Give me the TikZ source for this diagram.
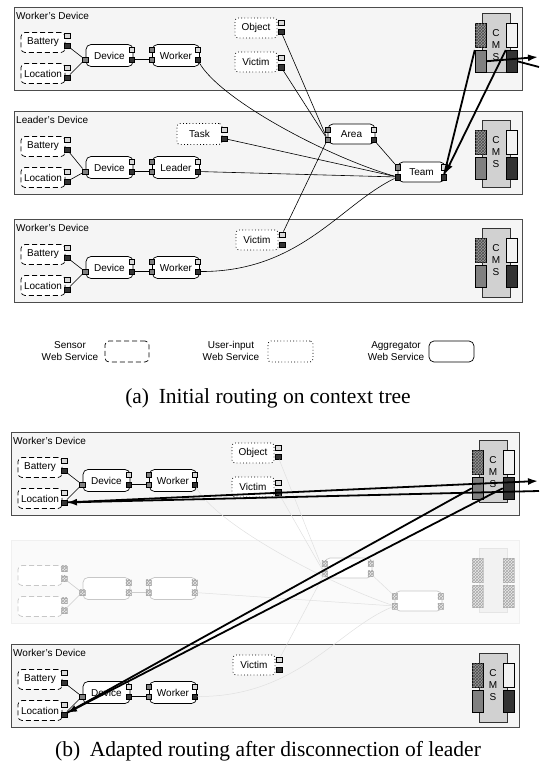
\documentclass[tikz,border=0pt]{standalone}
\usepackage{fontspec}
\setmainfont{Liberation Serif}
\setsansfont{Liberation Sans}
\usetikzlibrary{arrows.meta,patterns}

\tikzset{
  lbl/.style={font=\sffamily\fontsize{10}{12}\selectfont, inner sep=0pt},
  panel/.style={draw=black!70, fill=black!4, line width=0.6pt, minimum width=508pt, minimum height=83pt, inner sep=0pt},
  sensor/.style={lbl, draw, dash pattern=on 5pt off 3pt, rounded corners=4pt, fill=white, minimum width=44pt, minimum height=20pt, line width=0.7pt},
  userin/.style={lbl, draw, dash pattern=on 0.8pt off 2.4pt, rounded corners=3pt, fill=white, minimum width=42pt, minimum height=20pt, line width=0.8pt},
  aggr/.style={lbl, draw, rounded corners=5pt, fill=white, minimum width=47pt, minimum height=22pt, line width=0.7pt},
  port/.style={draw, line width=0.4pt, minimum size=5.5pt, inner sep=0pt},
  clt/.style={fill=black!15},
  cwt/.style={fill=black!5},
  cmd/.style={fill=black!50},
  cdk/.style={fill=black!80},
  chx/.style={fill=black!40, postaction={pattern=crosshatch, pattern color=black!70}},
  cms/.style={draw=black!80, fill=black!18, line width=0.6pt, minimum width=28pt, inner sep=0pt, anchor=north},
  cmsbar/.style={draw, line width=0.5pt, minimum width=11pt, inner sep=0pt, anchor=north},
  wire/.style={line width=0.6pt},
  ctx/.style={line width=0.6pt},
  route/.style={line width=1.8pt},
  tip/.style={-{Latex[length=10pt,width=7pt]}},
  fadepanel/.style={},
  caption/.style={font=\fontsize{21.5}{24}\selectfont}
}

\newcommand{\txt}[1]{#1}

% one device: panel, sensors, device and role aggregators, CMS
% #2 panel top, #3 aggregator row, #6 CMS top, #7 CMS height
\newcommand{\devpanel}[7]{%
  \node[panel] (#1) at (268,{#2+41.5}) {};
  \node[lbl, anchor=west] (#1-name) at (16,{#2+9}) {\txt{#4}};
  \node[sensor] (#1-bat) at (43,{#2+35.5}) {\txt{Battery}};
  \node[sensor] (#1-loc) at (43,{#2+66.5}) {\txt{Location}};
  \node[port, clt] (#1-bat-l) at (67,{#2+28.5}) {};
  \node[port, cdk] (#1-bat-d) at (67,{#2+38.5}) {};
  \node[port, clt] (#1-loc-l) at (67,{#2+60.5}) {};
  \node[port, cdk] (#1-loc-d) at (67,{#2+70.5}) {};
  \node[aggr] (#1-dev) at (109.5,#3) {\txt{Device}};
  \node[port, cmd] (#1-dev-i) at (85,{#3+4}) {};
  \node[port, clt] (#1-dev-l) at (131.5,{#3-6}) {};
  \node[port, cdk] (#1-dev-d) at (131.5,{#3+4}) {};
  \node[aggr] (#1-role) at (176,#3) {\txt{#5}};
  \node[port, cmd] (#1-role-a) at (151.5,{#3-6}) {};
  \node[port, cmd] (#1-role-b) at (151.5,{#3+4}) {};
  \node[port, clt] (#1-role-l) at (197.5,{#3-6}) {};
  \node[port, cdk] (#1-role-d) at (197.5,{#3+4}) {};
  \draw[wire] (#1-bat-d) -- (#1-dev-i);
  \draw[wire] (#1-loc-d) -- (#1-dev-i);
  \draw[wire] (#1-dev-d) -- (#1-role-b);
  \node[cms, minimum height=#7] (#1-cms) at (496,#6) {};
  \node[cmsbar, chx, minimum height=24pt] (#1-cms-h) at (480.5,{#6+10}) {};
  \node[cmsbar, cmd, minimum height=22pt] (#1-cms-m) at (480.5,{#6+37}) {};
  \node[cmsbar, cwt, minimum height=24pt] (#1-cms-w) at (511.5,{#6+10}) {};
  \node[cmsbar, cdk, minimum height=22pt] (#1-cms-k) at (511.5,{#6+37}) {};
  \node[lbl, align=center] (#1-cms-t) at (496,{#6+32}) {\txt{C\\M\\S}};
}

% the context tree: two workers and the leader
\newcommand{\ctxtree}[9]{%
  \devpanel{#1w}{7}{55.5}{Worker's Device}{Worker}{#6}{#7}
  \node[userin] (#1w-obj) at (256,28) {Object};
  \node[port, clt] (#1w-obj-l) at (281,22.5) {};
  \node[port, cdk] (#1w-obj-d) at (281,31.5) {};
  \node[userin] (#1w-vic) at (256,62) {Victim};
  \node[port, clt] (#1w-vic-l) at (281,57.5) {};
  \node[port, cdk] (#1w-vic-d) at (281,67) {};
  \devpanel{#1v}{219}{267.5}{Worker's Device}{Worker}{228}{69}
  \node[userin] (#1v-vic) at (257,240) {Victim};
  \node[port, clt] (#1v-vic-l) at (282,234.5) {};
  \node[port, cdk] (#1v-vic-d) at (282,244.5) {};
  \begin{scope}[fadepanel]
    \devpanel{#1l}{#2}{#3}{Leader's Device}{Leader}{#8}{#9}
    \node[aggr, minimum height=20pt] (#1l-area) at (351.5,{134+#4}) {\txt{Area}};
    \node[port, cmd] (#1l-area-a) at (327.5,{129.5+#4}) {};
    \node[port, cmd] (#1l-area-b) at (327.5,{139.5+#4}) {};
    \node[port, clt] (#1l-area-l) at (373.5,{129.5+#4}) {};
    \node[port, cdk] (#1l-area-d) at (373.5,{139.5+#4}) {};
    \node[aggr, minimum height=20pt] (#1l-team) at (421.5,{172+#5}) {\txt{Team}};
    \node[port, cmd] (#1l-team-a) at (397.5,{167+#5}) {};
    \node[port, cdk] (#1l-team-b) at (397.5,{177+#5}) {};
    \node[port, clt] (#1l-team-l) at (443.5,{167+#5}) {};
    \node[port, cdk] (#1l-team-d) at (443.5,{177+#5}) {};
    \draw[ctx] (#1w-role-d) .. controls (220,100) and (330,158) .. (#1l-team-b);
    \draw[ctx] (#1l-role-d) -- (#1l-team-b);
    \draw[ctx] (#1v-role-d) .. controls (300,272) and (340,205) .. (#1l-team-b);
    \draw[ctx] (#1l-area-d) -- (#1l-team-a);
    \draw[ctx] (#1w-obj-d) -- (#1l-area-b);
    \draw[ctx] (#1w-vic-d) -- (#1l-area-b);
    \draw[ctx] (#1v-vic-l) -- (#1l-area-b);
  \end{scope}
}

\begin{document}
\begin{tikzpicture}[x=1pt, y=-1pt]
\useasboundingbox (0,0) rectangle (539,769);

% (a) initial routing
\ctxtree{a}{111}{167.5}{0}{0}{13}{59}{120}{67}
\node[userin, minimum width=45pt, minimum height=21pt] (al-task) at (199.5,134) {Task};
\node[port, clt] (al-task-l) at (224,129.5) {};
\node[port, cdk] (al-task-d) at (224,138.5) {};
\draw[ctx] (al-task-d) -- (al-team-b);
\coordinate (a-out) at (538,57);
\coordinate (a-in) at (539,67);
\draw[route, tip] (aw-cms-m.east) -- (a-out);
\draw[route] (a-in) -- (aw-cms-k.east);
\draw[route] (al-team-d) -- (aw-cms-m.north west);
\draw[route, tip] (aw-cms-k.north west) -- (al-team-d);

% legend
\node[lbl, align=center] (key-sen) at (70,351) {Sensor\\Web Service};
\node[sensor, minimum height=21pt] (key-sen-box) at (127,351.5) {};
\node[lbl, align=center] (key-usr) at (231,351) {User-input\\Web Service};
\node[userin, minimum width=45pt, minimum height=21pt] (key-usr-box) at (290.5,351.5) {};
\node[lbl, align=center] (key-agg) at (396,351) {Aggregator\\Web Service};
\node[aggr, minimum width=45pt, minimum height=21pt] (key-agg-box) at (451.5,351.5) {};

\node[caption] (cap-a) at (268,398.5) {(a)\hspace{0.45em}Initial routing on context tree};

% (b) adapted routing, leader gone
\begin{scope}[shift={(-3,425)}, fadepanel/.code={\renewcommand\txt[1]{}%
    \tikzset{panel/.append style={draw=black!6, fill=black!2},
      sensor/.append style={draw=black!22}, aggr/.append style={draw=black!22},
      port/.append style={draw=black!25},
      cmsbar/.append style={draw=black!20}, cms/.append style={draw=black!10, fill=black!5},
      clt/.style={fill=black!8, postaction={pattern=crosshatch, pattern color=black!35}},
      cwt/.style={fill=black!8, postaction={pattern=crosshatch, pattern color=black!35}},
      cmd/.style={fill=black!8, postaction={pattern=crosshatch, pattern color=black!35}},
      cdk/.style={fill=black!8, postaction={pattern=crosshatch, pattern color=black!35}},
      chx/.style={fill=black!8, postaction={pattern=crosshatch, pattern color=black!35}},
      wire/.append style={draw=black!20}, ctx/.style={line width=0.5pt, draw=black!12}}}]
  \ctxtree{b}{115}{163.5}{9}{4}{15}{62}{123}{64}
\end{scope}
\coordinate (b-out) at (538,481);
\coordinate (b-in) at (539,491);
\draw[route, tip] (bw-loc-d) -- (b-out);
\draw[route, tip] (b-in) -- (bw-loc-d);
\draw[route] (bw-cms-m.west) -- (bv-loc-d);
\draw[route, tip] (bw-cms-k.west) -- (bv-loc-d);

\node[caption] (cap-b) at (268,751.5) {(b)\hspace{0.45em}Adapted routing after disconnection of leader};
\end{tikzpicture}
\end{document}
